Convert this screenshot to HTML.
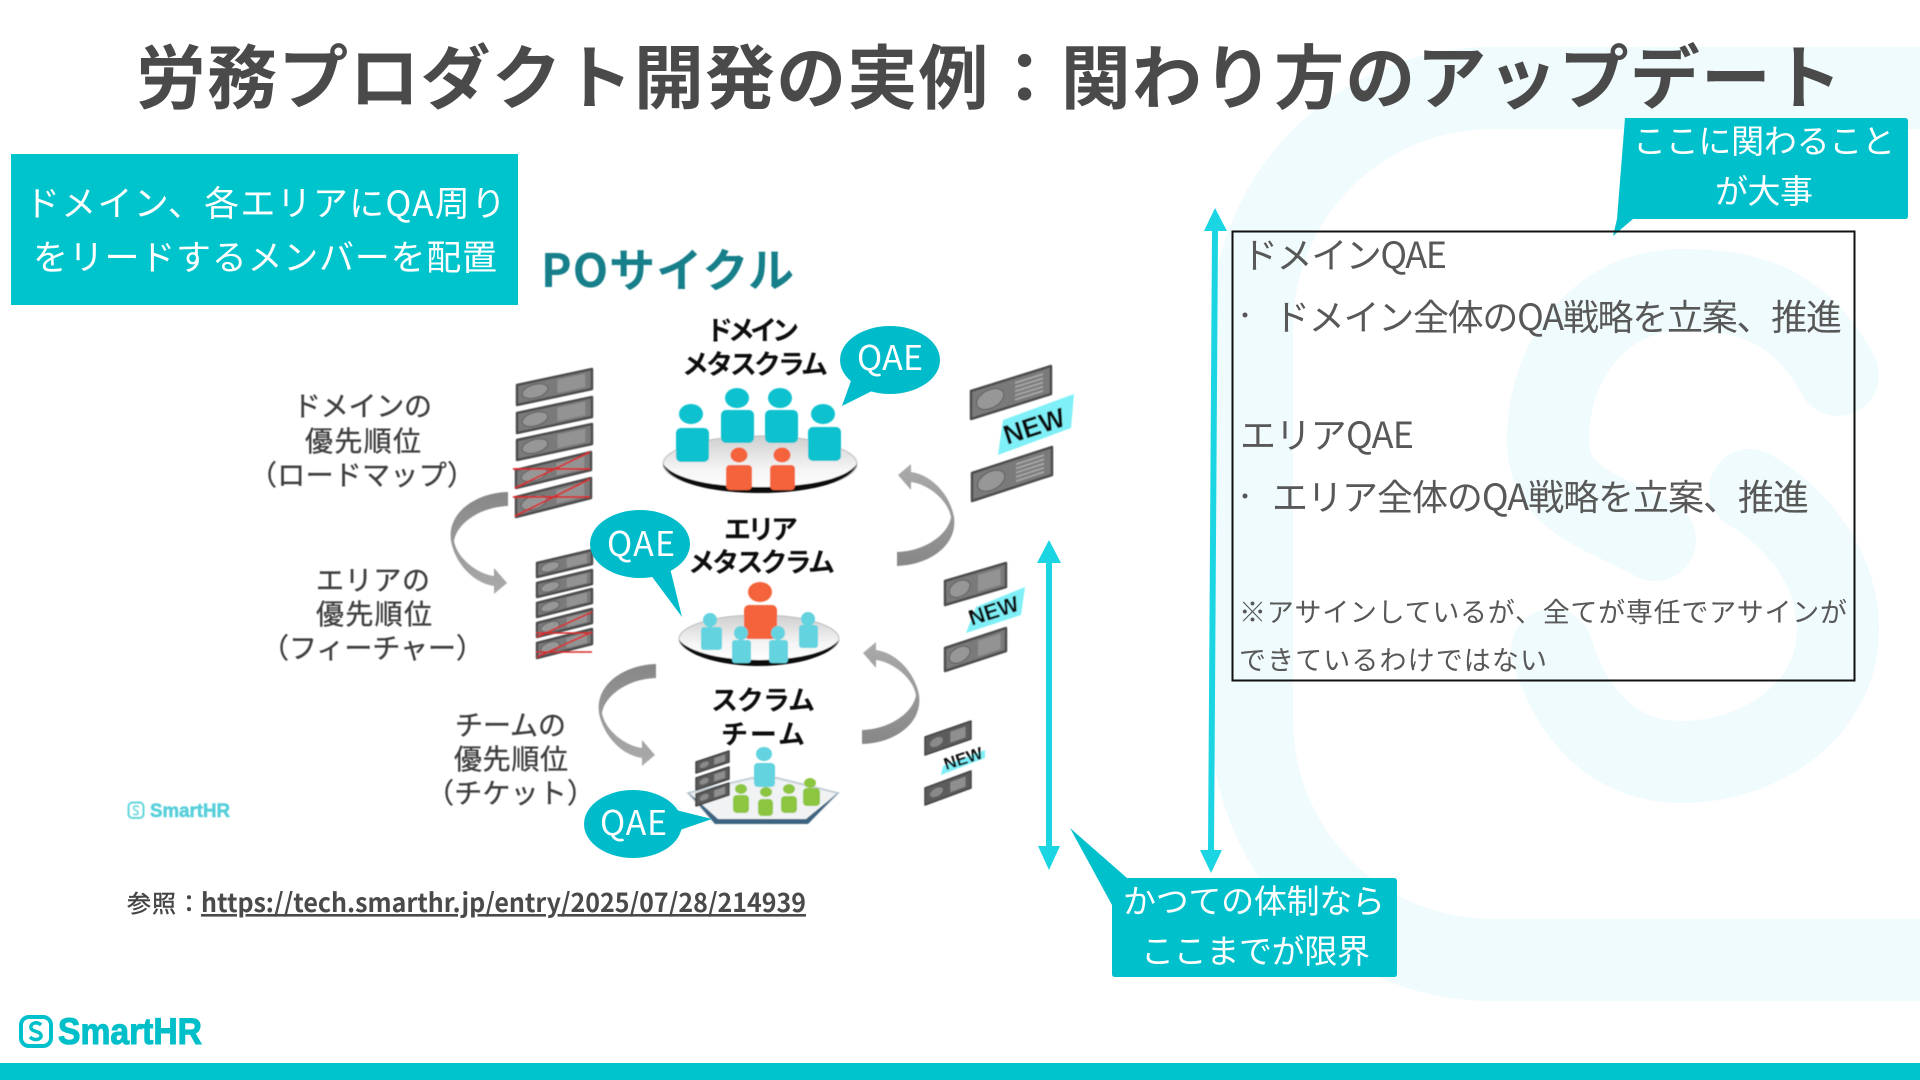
<!DOCTYPE html>
<html lang="ja"><head><meta charset="utf-8"><title>労務プロダクト開発の実例</title>
<style>
html,body{margin:0;padding:0;background:#fff;width:1920px;height:1080px;overflow:hidden}
svg{display:block}
text{font-family:"Noto Sans CJK JP","Liberation Sans",sans-serif}
.l{fill:#3f3f3f;font-size:28px;stroke:#3f3f3f;stroke-width:.35px}.k{fill:#111;font-weight:700;font-size:27px}.b{fill:#585858;font-size:36px}.c{fill:#fff;font-size:33px}.q{fill:#fff;font-size:34px}
.n{fill:#111;font-weight:700;font-family:"Liberation Sans",sans-serif}
</style></head><body>
<svg width="1920" height="1080" viewBox="0 0 1920 1080" xmlns="http://www.w3.org/2000/svg">
<defs>
<g id="p"><polygon points="0,0 1,0 1,1 0,1" fill="#7a7a7a" stroke="#4e4e4e" stroke-width="2.500" stroke-linejoin="round" vector-effect="non-scaling-stroke"/><ellipse cx=".24" cy=".5" rx=".17" ry=".34" fill="#979797" stroke="#5e5e5e" stroke-width="1" vector-effect="non-scaling-stroke"/><rect x=".54" y=".16" width=".37" height=".68" fill="#939393"/></g>
<g id="r"><polygon points="0,0 1,0 1,1 0,1" fill="#7a7a7a" stroke="#4e4e4e" stroke-width="2.500" stroke-linejoin="round" vector-effect="non-scaling-stroke"/><ellipse cx=".24" cy=".5" rx=".17" ry=".34" fill="#979797" stroke="#5e5e5e" stroke-width="1" vector-effect="non-scaling-stroke"/><path d="M.55 .2H.9M.55 .35H.9M.55 .5H.9M.55 .65H.9M.55 .8H.9" stroke="#a6a6a6" stroke-width=".07" fill="none"/></g>
<g id="d"><polygon points="0,0 1,0 1,1 0,1" fill="#5c5c5c" stroke="#444" stroke-width="1.500" stroke-linejoin="round" vector-effect="non-scaling-stroke"/><ellipse cx=".25" cy=".5" rx=".14" ry=".25" fill="#8a8a8a"/><rect x=".55" y=".2" width=".33" height=".6" fill="#8f8f8f"/></g>
<linearGradient id="g" x1="0" y1="0" x2="0" y2="1"><stop offset="0" stop-color="#ababab"/><stop offset="1" stop-color="#878787"/></linearGradient>
<path id="a" fill="url(#g)" d="M897 566C930 565 958 545 954 517C950 495 932 475 911 472L911 464L898 475L911 490L911 482C928 484 948 500 951 517C948 535 925 551 897 552Z"/>
<filter id="bl" x="-5%" y="-5%" width="110%" height="110%"><feGaussianBlur stdDeviation=".45"/></filter>
<linearGradient id="t" x1="0" y1="0" x2="0" y2="1"><stop offset="0" stop-color="#cfcfcf"/><stop offset=".6" stop-color="#f5f5f5"/><stop offset="1" stop-color="#fff"/></linearGradient>
</defs>

<!-- watermark -->
<g fill="none" stroke="#effbfc" stroke-width="82" stroke-linecap="round">
<rect x="1252" y="88" width="1000" height="872" rx="240"/>
<path d="M1838 375C1800 305 1750 290 1682 290C1600 290 1548 360 1548 440C1548 500 1600 510 1655 540"/>
<path d="M1750 490C1800 520 1838 570 1838 630C1838 710 1760 762 1682 762C1610 762 1570 710 1552 650"/>
</g>

<!-- title -->
<text x="136" y="103" font-size="70" font-weight="700" fill="#4a4a4a" textLength="1706">労務プロダクト開発の実例：関わり方のアップデート</text>

<!-- figure -->
<g filter="url(#bl)">
<text x="541" y="287" font-size="46" font-weight="700" fill="#137f8a" textLength="253">POサイクル</text>
<text class="k" x="706" y="340" textLength="93">ドメイン</text>
<text class="k" x="682" y="374" textLength="146">メタスクラム</text>
<text class="k" x="724" y="539" textLength="74">エリア</text>
<text class="k" x="688" y="572" textLength="147">メタスクラム</text>
<text class="k" x="711" y="710" textLength="104">スクラム</text>
<text class="k" x="721" y="744" textLength="84">チーム</text>

<text class="l" x="293" y="416" textLength="139">ドメインの</text>
<text class="l" x="305" y="451" textLength="116">優先順位</text>
<text class="l" x="249" y="485" textLength="226">（ロードマップ）</text>
<text class="l" x="316" y="590" textLength="114">エリアの</text>
<text class="l" x="316" y="624" textLength="116">優先順位</text>
<text class="l" x="261" y="658" textLength="223">（フィーチャー）</text>
<text class="l" x="455" y="735" textLength="111">チームの</text>
<text class="l" x="454" y="769" textLength="114">優先順位</text>
<text class="l" x="426" y="803" textLength="169">（チケット）</text>

<!-- left stacks -->
<use href="#p" transform="matrix(75,-16,0,20,517,385)"/>
<use href="#p" transform="matrix(75,-16,0,20,517,413)"/>
<use href="#p" transform="matrix(75,-16,0,20,517,440)"/>
<use href="#p" transform="matrix(75,-18,0,18,516,470)"/>
<use href="#p" transform="matrix(75,-19,0,20,516,497)"/>
<path d="M513 469H590M515 488L590 452M513 497H590M515 516L590 479" stroke="#d9282c" stroke-width="1.800" fill="none"/>
<use href="#p" transform="matrix(55,-13,0,14,537,563)"/>
<use href="#p" transform="matrix(55,-13,0,14,537,583)"/>
<use href="#p" transform="matrix(55,-14,0,14,537,603)"/>
<use href="#p" transform="matrix(55,-14,0,14,537,623)"/>
<use href="#p" transform="matrix(55,-14,0,15,537,643)"/>
<path d="M536 633H592M537 637L592 612M536 652H592M537 657L592 632" stroke="#d9282c" stroke-width="1.600" fill="none"/>

<!-- right stacks -->
<use href="#r" transform="matrix(80,-25,0,28,971,391)"/>
<use href="#r" transform="matrix(80,-26,0,28,972,473)"/>
<polygon points="1003,420 1074,394 1071,428 998,455" fill="#7ff0f7"/>
<text class="n" font-size="27" text-anchor="middle" transform="translate(1037,435) rotate(-18)">NEW</text>
<use href="#p" transform="matrix(61,-18,0,24,945,581)"/>
<use href="#p" transform="matrix(61,-20,0,23,945,648)"/>
<polygon points="976,607 1025,587 1021,615 966,633" fill="#7ff0f7"/>
<text class="n" font-size="22" text-anchor="middle" transform="translate(996,618) rotate(-18)">NEW</text>
<use href="#d" transform="matrix(46,-16,0,18,925,737)"/>
<use href="#d" transform="matrix(46,-17,0,17,925,788)"/>
<polygon points="943,766 985,750 985,758 941,775" fill="#7ff0f7"/>
<text class="n" font-size="17" text-anchor="middle" transform="translate(965,764) rotate(-18)">NEW</text>

<!-- arrows -->
<use href="#a"/>
<use href="#a" transform="translate(-35,178)"/>
<use href="#a" transform="translate(1405,1058) rotate(180)"/>
<use href="#a" transform="translate(1553,1230) rotate(180)"/>

<!-- top table -->
<ellipse cx="760" cy="464" rx="97" ry="28" fill="url(#t)" stroke="#bbb"/>
<path d="M663 464C668 482 710 493 760 493C810 493 852 482 857 464C845 480 805 487 760 487C715 487 675 480 663 464Z" fill="#111"/>
<g fill="#11c1cf">
<ellipse cx="691" cy="414" rx="12" ry="10"/><rect x="676" y="428" width="33" height="34" rx="5"/>
<ellipse cx="737" cy="398" rx="12" ry="10"/><rect x="721" y="410" width="33" height="33" rx="5"/>
<ellipse cx="780" cy="398" rx="12" ry="10"/><rect x="765" y="410" width="33" height="33" rx="5"/>
<ellipse cx="823" cy="414" rx="12" ry="10"/><rect x="808" y="427" width="33" height="34" rx="5"/>
</g>
<g fill="#f4633b">
<ellipse cx="739" cy="455" rx="8.500" ry="7.500"/><rect x="726" y="465" width="26" height="25" rx="4"/>
<ellipse cx="782" cy="455" rx="8.500" ry="7.500"/><rect x="770" y="465" width="25" height="25" rx="4"/>
</g>

<!-- middle table -->
<ellipse cx="759" cy="639" rx="80" ry="24" fill="url(#t)" stroke="#bbb"/>
<path d="M679 640C684 655 720 666 759 666C798 666 834 655 839 640C828 653 795 660 759 660C723 660 690 653 679 640Z" fill="#111"/>
<g fill="#62d3df">
<ellipse cx="710" cy="620" rx="7" ry="7"/><rect x="701" y="627" width="21" height="23" rx="3"/>
<ellipse cx="808" cy="619" rx="7" ry="7"/><rect x="799" y="625" width="19" height="23" rx="3"/>
</g>
<ellipse cx="760" cy="592" rx="12" ry="10" fill="#f4633b"/><rect x="744" y="605" width="33" height="34" rx="5" fill="#f4633b"/>
<g fill="#62d3df">
<ellipse cx="741" cy="633" rx="7" ry="7"/><rect x="732" y="640" width="19" height="23" rx="3"/>
<ellipse cx="778" cy="633" rx="7" ry="7"/><rect x="769" y="640" width="19" height="23" rx="3"/>
</g>

<!-- scrum hex -->
<polygon points="688,793 752,778 777,778 838,793 808,823 715,823" fill="#f0f2f3" stroke="#c4d0d8" stroke-width="2"/>
<polygon points="688,792 715,824 808,824 839,792 806,819 718,819" fill="#3c6480"/>
<use href="#d" transform="matrix(33,-11,0,11,696,762)"/>
<use href="#d" transform="matrix(33,-11,0,12,696,778)"/>
<use href="#d" transform="matrix(33,-11,0,12,696,794)"/>
<ellipse cx="764" cy="754" rx="8" ry="7" fill="#62d3df"/><rect x="754" y="763" width="21" height="24" rx="4" fill="#62d3df"/>
<g fill="#8cc63f">
<ellipse cx="741" cy="789" rx="6" ry="5"/><rect x="733" y="795" width="16" height="18" rx="4"/>
<ellipse cx="766" cy="792" rx="6" ry="5"/><rect x="758" y="799" width="15" height="17" rx="4"/>
<ellipse cx="789" cy="789" rx="6" ry="5"/><rect x="781" y="796" width="16" height="17" rx="4"/>
<ellipse cx="810" cy="783" rx="6" ry="5"/><rect x="803" y="788" width="17" height="18" rx="4"/>
</g>

<!-- small logo -->
<rect x="128.500" y="802.500" width="15" height="15.500" rx="4" fill="none" stroke="#63d5de" stroke-width="2"/>
<path d="M139 807C136 805 133 806 134 809C135 811 138 810 138 813C138 815 135 815 133 814" fill="none" stroke="#63d5de" stroke-width="1.500"/>
<text x="150" y="817" font-size="19" font-weight="700" fill="#55cfda" stroke="#55cfda" stroke-width=".5" textLength="80" lengthAdjust="spacingAndGlyphs" style="font-family:'Liberation Sans',sans-serif">SmartHR</text>
</g>

<!-- QAE bubbles -->
<g fill="#00bccb">
<ellipse cx="890" cy="360" rx="50" ry="34"/><polygon points="852,378 878,388 842,406"/>
<ellipse cx="640" cy="544" rx="50" ry="34"/><polygon points="650,574 670,568 682,617"/>
<ellipse cx="633" cy="824" rx="49" ry="34"/><polygon points="676,810 680,830 712,819"/>
</g>
<text class="q" x="857" y="370" textLength="66">QAE</text>
<text class="q" x="607" y="556" textLength="68">QAE</text>
<text class="q" x="600" y="835" textLength="67">QAE</text>

<!-- reference -->
<text x="127" y="912" font-size="24" fill="#444" stroke="#444" stroke-width=".4" textLength="74">参照：</text>
<text x="201" y="912" font-size="26" font-weight="700" fill="#4a4a4a" text-decoration="underline" textLength="605" lengthAdjust="spacingAndGlyphs">https://tech.smarthr.jp/entry/2025/07/28/214939</text>

<!-- callouts -->
<rect x="11" y="154" width="507" height="151" fill="#00c4cc"/>
<text class="c" x="25" y="216" style="font-size:35px" textLength="481">ドメイン、各エリアにQA周り</text>
<text class="c" x="33" y="270" style="font-size:35px" textLength="464">をリードするメンバーを配置</text>

<path d="M1625 118H1905Q1908 118 1908 121V216Q1908 219 1905 219H1633L1613 236L1617 219Z" fill="#00c0cc"/>
<text class="c" x="1633" y="153" textLength="262">ここに関わること</text>
<text class="c" x="1715" y="203" textLength="98">が大事</text>

<path d="M1115 878H1394Q1397 878 1397 881V974Q1397 977 1394 977H1115Q1112 977 1112 974V905L1070 828L1127 878Z" fill="#00c0cc"/>
<text class="c" x="1123" y="913" textLength="262">かつての体制なら</text>
<text class="c" x="1141" y="963" textLength="229">ここまでが限界</text>

<!-- cyan arrows -->
<g fill="#1bd5e3">
<polygon points="1049,540 1061,563 1052,563 1052,846 1060,846 1049,870 1038,846 1046,846 1046,563 1037,563"/>
<polygon points="1215,208 1227,231 1218,231 1214,850 1222,850 1211,873 1200,850 1208,850 1212,231 1204,231"/>
</g>

<!-- info box -->
<rect x="1232.500" y="231.500" width="622" height="449" fill="none" stroke="#111" stroke-width="2"/>
<text class="b" x="1242" y="268" textLength="205">ドメインQAE</text>
<circle cx="1245" cy="315" r="2.500" fill="#555"/>
<text class="b" x="1274" y="330" textLength="568">ドメイン全体のQA戦略を立案、推進</text>
<text class="b" x="1240" y="448" textLength="174">エリアQAE</text>
<circle cx="1245" cy="496" r="2.500" fill="#555"/>
<text class="b" x="1272" y="510" textLength="537">エリア全体のQA戦略を立案、推進</text>
<text x="1239" y="622" font-size="27" fill="#585858" textLength="608">※アサインしているが、全てが専任でアサインが</text>
<text x="1239" y="670" font-size="27" fill="#585858" textLength="308">できているわけではない</text>

<!-- footer -->
<rect x="0" y="1063" width="1920" height="17" fill="#00c4cc"/>
<rect x="21" y="1017" width="30" height="29" rx="8" fill="none" stroke="#00c0cb" stroke-width="4"/>
<path d="M41 1025C37 1021 30 1023 31 1028C32 1032 40 1031 41 1035C42 1040 34 1041 30 1037" fill="none" stroke="#00c0cb" stroke-width="3.500"/>
<text x="58" y="1044" font-size="37" font-weight="700" fill="#00bfc9" stroke="#00bfc9" stroke-width="1.100" textLength="144" lengthAdjust="spacingAndGlyphs" style="font-family:'Liberation Sans',sans-serif">SmartHR</text>
</svg>
</body></html>
